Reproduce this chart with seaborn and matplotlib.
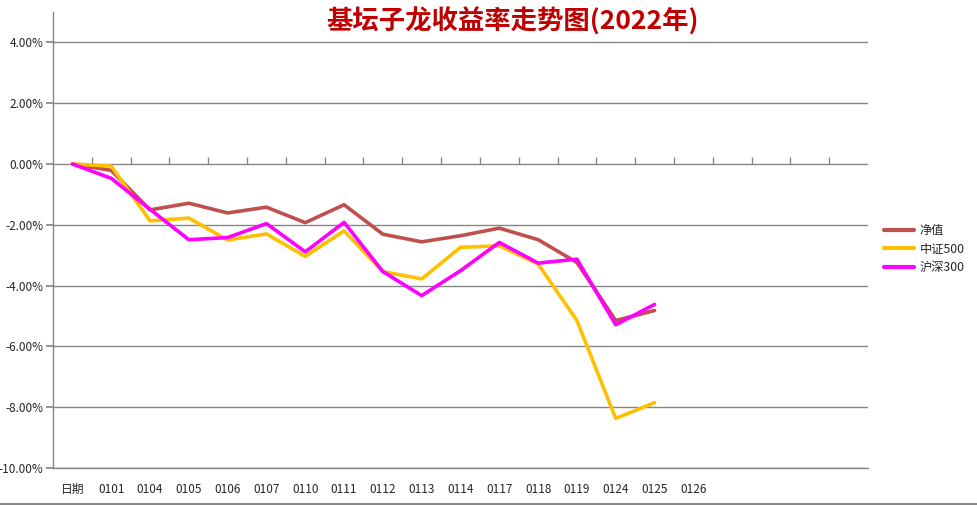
import numpy as np
import pandas as pd
import matplotlib
matplotlib.use("Agg")
import matplotlib.pyplot as plt
from matplotlib.lines import Line2D
import seaborn as sns

# ── Data (returns in %) ────────────────────────────────────────────────────────
DATES = ["日期", "0101", "0104", "0105", "0106", "0107", "0110", "0111", "0112",
         "0113", "0114", "0117", "0118", "0119", "0124", "0125", "0126"]
N_SLOTS = 21   # category slots on the axis (last ones empty)

NAV    = [0.00, -0.21, -1.51, -1.29, -1.61, -1.42, -1.93, -1.34, -2.31,
          -2.56, -2.36, -2.11, -2.49, -3.24, -5.15, -4.82]
CSI500 = [0.00, -0.07, -1.87, -1.78, -2.50, -2.30, -3.04, -2.20, -3.54,
          -3.78, -2.74, -2.69, -3.29, -5.15, -8.37, -7.85]
CSI300 = [0.00, -0.47, -1.49, -2.49, -2.42, -1.96, -2.89, -1.92, -3.54,
          -4.33, -3.51, -2.58, -3.26, -3.13, -5.29, -4.62]

SERIES = ["净值", "中证500", "沪深300"]
COLORS = ["#C0504D", "#FFC000", "#FF00FF"]
Y_TICKS = [-10, -8, -6, -4, -2, 0, 2, 4]

TITLE = "基坛子龙收益率走势图(2022年)"

# ── Style ──────────────────────────────────────────────────────────────────────
sns.set_theme(style="white")
plt.rcParams["font.family"] = ["Noto Sans CJK SC", "DejaVu Sans"]
GRAY = "#868686"

frames = []
for name, vals in zip(SERIES, [NAV, CSI500, CSI300]):
    frames.append(pd.DataFrame({"pos": np.arange(len(vals)),
                                "ret": vals, "series": name}))
df = pd.concat(frames, ignore_index=True)

fig = plt.figure(figsize=(9.77, 5.05), dpi=100)
W, H = 977, 505
ax = fig.add_axes([53 / W, 1 - 468 / H, (868 - 53) / W, (468 - 12) / H])

sns.lineplot(data=df, x="pos", y="ret", hue="series", hue_order=SERIES,
             palette=COLORS, linewidth=2.6, ax=ax, legend=False)

ax.set_xlim(-0.5, N_SLOTS - 0.5)
ax.set_ylim(-10, 5)
ax.set_yticks(Y_TICKS)
ax.set_yticklabels([f"{v:.2f}%" for v in Y_TICKS], fontsize=8.5)
ax.yaxis.grid(True, color=GRAY, linewidth=1)
ax.xaxis.grid(False)
ax.set_axisbelow(True)

ax.set_xticks(range(N_SLOTS))
ax.set_xticklabels(DATES + [""] * (N_SLOTS - len(DATES)), fontsize=8.5)
ax.tick_params(axis="x", length=0, pad=11)
ax.tick_params(axis="y", length=5, color=GRAY, direction="out", pad=2, left=True)
ax.set_xlabel("")
ax.set_ylabel("")

for side in ["top", "right"]:
    ax.spines[side].set_visible(False)
for side in ["left", "bottom"]:
    ax.spines[side].set_color(GRAY)
    ax.spines[side].set_linewidth(1)

# category boundary ticks on the zero line
zero_ax = ax.secondary_xaxis(10 / 15)
zero_ax.set_xticks(np.arange(0.5, N_SLOTS - 0.5, 1))
zero_ax.set_xticklabels([])
zero_ax.tick_params(axis="x", length=5, width=1, color=GRAY, direction="out")
for sp in zero_ax.spines.values():
    sp.set_visible(False)

# legend
handles = [Line2D([], [], color=c, linewidth=3) for c in COLORS]
fig.legend(handles, SERIES, loc="center left",
           bbox_to_anchor=(879 / W, 1 - 249 / H), frameon=False,
           fontsize=8.8, handlelength=2.5, handletextpad=0.4,
           labelspacing=0.45, borderaxespad=0)

fig.text(513 / W, 1 - 22 / H, TITLE, ha="center", va="center",
         fontsize=19, fontweight="bold", color="#C00000")

# bottom border of the chart area
fig.add_artist(Line2D([0, 1], [1 - 503.5 / H, 1 - 503.5 / H],
                      transform=fig.transFigure, color=GRAY, linewidth=1.5))

fig.savefig("out.png", dpi=100)
